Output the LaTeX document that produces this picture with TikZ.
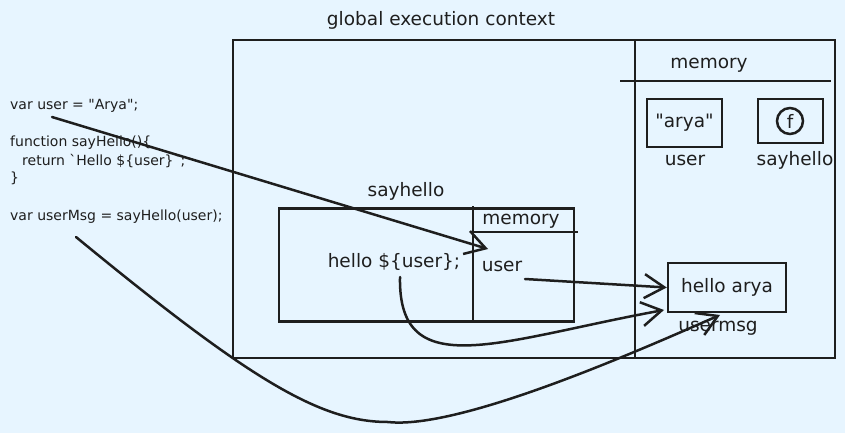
\documentclass[tikz,border=0pt]{standalone}
\usepackage{fontspec}
\setmainfont{DejaVu Sans}
\usetikzlibrary{positioning}
\usetikzlibrary{arrows.meta}
\definecolor{canvasc}{HTML}{E7F5FF}
\definecolor{inkc}{HTML}{1E1E1E}
\tikzset{
  frame/.style={draw=inkc, line width=1.5pt},
  membox/.style={draw=inkc, line width=2.5pt, inner sep=0pt},
  lbl/.style={text=inkc, font=\fontsize{18.5}{20}\selectfont, inner sep=1pt},
  code/.style={text=inkc, font=\fontsize{14}{16}\selectfont, anchor=west, inner sep=0pt},
  arr/.style={draw=inkc, line width=2.5pt, line cap=round,
    -{Straight Barb[length=20pt,width=24pt,line width=2.5pt]}}
}

\begin{document}
\begin{tikzpicture}[x=1pt,y=-1pt]
\fill[canvasc] (0,0) rectangle (845,433);

% code on the left
\node[code] (cl1) at (10,106) {var user = \textquotedbl Arya\textquotedbl;};
\node[code] (cl2) at (10,143) {function sayHello()\{};
\node[code] (cl3) at (10,161) {\hspace{12pt}return \textasciigrave Hello \$\{user\}\textasciigrave;};
\node[code] (cl4) at (10,178) {\}};
\node[code] (cl5) at (10,217) {var userMsg = sayHello(user);};
\coordinate (cuser) at (52,117);
\coordinate (cmsg) at (76,237);

% global execution context
\node[lbl] (gtitle) at (441,20) {global execution context};
\node[frame, minimum width=602pt, minimum height=318pt] (global) at (534,199) {};
\draw[frame] (635,40) -- (635,358);
\node[lbl] (gmem) at (709,65) {memory};
\draw[membox] (620,81) -- (831,81);

\node[membox, minimum width=75pt, minimum height=48pt] (arya) at (684.5,123) {};
\node[lbl] at (arya) {\textquotedbl arya\textquotedbl};
\node[lbl] (guser) at (685,160) {user};
\node[membox, minimum width=65pt, minimum height=44pt] (fbox) at (790.5,121) {};
\node[membox, circle, minimum size=26pt] (fcirc) at (790,121) {};
\node[lbl] at (fcirc) {f};
\node[lbl] (gsay) at (795,160) {sayhello};

\node[membox, minimum width=118pt, minimum height=49pt] (hello) at (727,287.5) {};
\node[lbl] at (hello) {hello arya};
\node[lbl] (umsg) at (718,328) {usermsg};
\coordinate (umtip) at (720,315);

% sayhello context
\node[lbl] (stitle) at (406,191) {sayhello};
\node[membox, minimum width=295pt, minimum height=113pt] (say) at (426.5,265) {};
\draw[membox] (473,206) -- (473,322);
\draw[membox] (473,232) -- (578,232);
\node[lbl] (smem) at (521,221) {memory};
\node[lbl] (sexpr) at (394,262) {hello \$\{user\};};
\node[lbl] (suser) at (502,266) {user};
\coordinate (utip) at (488,249);
\coordinate (sfrom) at (400,277);
\coordinate (sto) at (525,279);
\coordinate (htip) at (664,310);

% connectors
\draw[arr] (cuser) -- (utip);
\draw[arr] (sto) -- (hello.west);
\draw[arr] (sfrom) .. controls (398,385) and (500,340) .. (htip);
\draw[arr] (cmsg) .. controls (250,380) and (320,422) .. (388,422)
  .. controls (460,430) and (640,350) .. (umtip);
\end{tikzpicture}
\end{document}
